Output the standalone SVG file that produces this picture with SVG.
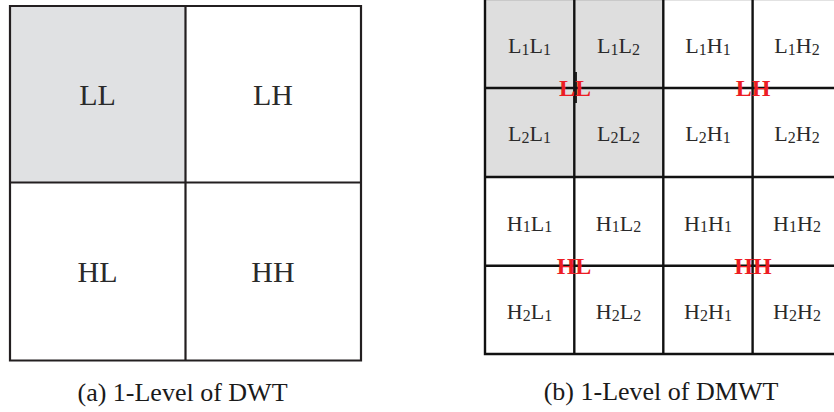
<svg xmlns="http://www.w3.org/2000/svg" width="834" height="412" viewBox="0 0 834 412">
  <style>
    .bg { fill: #ffffff; }
    .cell { fill: #ffffff; stroke: none; }
    .low { fill: #e0e1e3; }
    .low2 { fill: #dedede; }
    .grid { stroke: #231f20; stroke-width: 2.2; fill: none; stroke-linecap: square; }
    .grid2 { stroke: #111111; stroke-width: 2.4; fill: none; }
    .big { font-family: "Liberation Serif", "Times New Roman", serif; font-size: 30px; fill: #2a2a2a; text-anchor: middle; }
    .sm { font-family: "Liberation Serif", "Times New Roman", serif; font-size: 22px; fill: #2a2a2a; text-anchor: middle; }
    .sub { font-size: 16px; }
    .red { font-family: "Liberation Serif", "Times New Roman", serif; font-size: 24px; font-weight: bold; fill: #ec1c24; text-anchor: middle; }
    .cap { font-family: "Liberation Serif", "Times New Roman", serif; font-size: 26px; fill: #1a1a1a; text-anchor: middle; }
  </style>
  <rect class="bg" x="0" y="0" width="834" height="412"/>

  <!-- (a) one level DWT: 2x2 grid -->
  <g id="dwt">
    <g id="dwt-LL"><rect class="low" x="10" y="6" width="175.5" height="176.5"/><text class="big" x="97.5" y="104.5">LL</text></g>
    <g id="dwt-LH"><rect class="cell" x="185.5" y="6" width="175.5" height="176.5"/><text class="big" x="273" y="104.5">LH</text></g>
    <g id="dwt-HL"><rect class="cell" x="10" y="182.5" width="175.5" height="178.5"/><text class="big" x="97.5" y="281.5">HL</text></g>
    <g id="dwt-HH"><rect class="cell" x="185.5" y="182.5" width="175.5" height="178.5"/><text class="big" x="273" y="281.5">HH</text></g>
  </g>

  <!-- (b) one level DMWT: 4x4 grid -->
  <g id="dmwt">
    <rect class="low2" x="485" y="0" width="178" height="177"/>
    <g id="c-L1L1"><text class="sm" x="529.5" y="53">L<tspan class="sub" dy="1.5">1</tspan><tspan dy="-1.5">L</tspan><tspan class="sub" dy="1.5">1</tspan></text></g>
    <g id="c-L1L2"><text class="sm" x="618.5" y="53">L<tspan class="sub" dy="1.5">1</tspan><tspan dy="-1.5">L</tspan><tspan class="sub" dy="1.5">2</tspan></text></g>
    <g id="c-L1H1"><text class="sm" x="708" y="53">L<tspan class="sub" dy="1.5">1</tspan><tspan dy="-1.5">H</tspan><tspan class="sub" dy="1.5">1</tspan></text></g>
    <g id="c-L1H2"><text class="sm" x="797" y="53">L<tspan class="sub" dy="1.5">1</tspan><tspan dy="-1.5">H</tspan><tspan class="sub" dy="1.5">2</tspan></text></g>

    <g id="c-L2L1"><text class="sm" x="529.5" y="141">L<tspan class="sub" dy="1.5">2</tspan><tspan dy="-1.5">L</tspan><tspan class="sub" dy="1.5">1</tspan></text></g>
    <g id="c-L2L2"><text class="sm" x="618.5" y="141">L<tspan class="sub" dy="1.5">2</tspan><tspan dy="-1.5">L</tspan><tspan class="sub" dy="1.5">2</tspan></text></g>
    <g id="c-L2H1"><text class="sm" x="708" y="141">L<tspan class="sub" dy="1.5">2</tspan><tspan dy="-1.5">H</tspan><tspan class="sub" dy="1.5">1</tspan></text></g>
    <g id="c-L2H2"><text class="sm" x="797" y="141">L<tspan class="sub" dy="1.5">2</tspan><tspan dy="-1.5">H</tspan><tspan class="sub" dy="1.5">2</tspan></text></g>

    <g id="c-H1L1"><text class="sm" x="529.5" y="230.5">H<tspan class="sub" dy="1.5">1</tspan><tspan dy="-1.5">L</tspan><tspan class="sub" dy="1.5">1</tspan></text></g>
    <g id="c-H1L2"><text class="sm" x="618.5" y="230.5">H<tspan class="sub" dy="1.5">1</tspan><tspan dy="-1.5">L</tspan><tspan class="sub" dy="1.5">2</tspan></text></g>
    <g id="c-H1H1"><text class="sm" x="708" y="230.5">H<tspan class="sub" dy="1.5">1</tspan><tspan dy="-1.5">H</tspan><tspan class="sub" dy="1.5">1</tspan></text></g>
    <g id="c-H1H2"><text class="sm" x="797" y="230.5">H<tspan class="sub" dy="1.5">1</tspan><tspan dy="-1.5">H</tspan><tspan class="sub" dy="1.5">2</tspan></text></g>

    <g id="c-H2L1"><text class="sm" x="529.5" y="319">H<tspan class="sub" dy="1.5">2</tspan><tspan dy="-1.5">L</tspan><tspan class="sub" dy="1.5">1</tspan></text></g>
    <g id="c-H2L2"><text class="sm" x="618.5" y="319">H<tspan class="sub" dy="1.5">2</tspan><tspan dy="-1.5">L</tspan><tspan class="sub" dy="1.5">2</tspan></text></g>
    <g id="c-H2H1"><text class="sm" x="708" y="319">H<tspan class="sub" dy="1.5">2</tspan><tspan dy="-1.5">H</tspan><tspan class="sub" dy="1.5">1</tspan></text></g>
    <g id="c-H2H2"><text class="sm" x="797" y="319">H<tspan class="sub" dy="1.5">2</tspan><tspan dy="-1.5">H</tspan><tspan class="sub" dy="1.5">2</tspan></text></g>
  </g>

  <!-- grid lines -->
  <g id="lines">
    <path class="grid" d="M10 6 H361 V360.5 H10 Z M185.5 6 V360.5 M10 182.5 H361"/>
    <path d="M485 -0.6 H834" stroke="#8a8a8a" stroke-width="1.6" fill="none"/>
    <path class="grid2" d="M485 0 V354 H834 M574.3 0 V354 M663.3 0 V354 M752.6 0 V354 M485 88 H834 M485 177 H834 M485 265.7 H834"/>
    <!-- short offset piece behind the LL label -->
    <path d="M576 72 V103" stroke="#111" stroke-width="1.8" fill="none"/>
  </g>

  <!-- red sub-band labels -->
  <g id="band-LL"><text class="red" x="575" y="96">LL</text></g>
  <g id="band-LH"><text class="red" x="753" y="96">LH</text></g>
  <g id="band-HL"><text class="red" x="574" y="274">HL</text></g>
  <g id="band-HH"><text class="red" x="753" y="274">HH</text></g>

  <!-- captions -->
  <text class="cap" x="182.5" y="401">(a) 1-Level of DWT</text>
  <text class="cap" x="661" y="400">(b) 1-Level of DMWT</text>
</svg>
